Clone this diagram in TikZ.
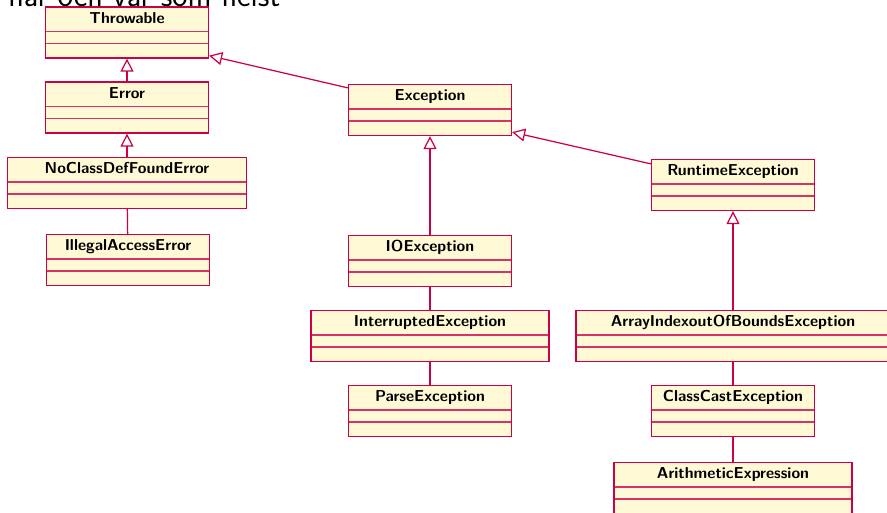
\documentclass[tikz,border=0pt]{standalone}
\usepackage{xcolor}
\usepackage{tikz}
\usetikzlibrary{positioning,arrows.meta}
\definecolor{umlred}{RGB}{204,0,68}
\definecolor{umlfill}{RGB}{255,249,214}

\begin{document}
\begin{tikzpicture}[
  umlclass/.style={draw=umlred, fill=umlfill, line width=0.7pt, minimum width=#1,
    inner ysep=0.12cm, text height=0.2cm, text depth=0.58cm,
    font=\sffamily\bfseries\small,
    path picture={
      \draw[umlred!80, line width=0.6pt] ([yshift=-0.49cm]path picture bounding box.north west) -- ([yshift=-0.49cm]path picture bounding box.north east);
      \draw[umlred!80, line width=0.6pt] ([yshift=-0.73cm]path picture bounding box.north west) -- ([yshift=-0.73cm]path picture bounding box.north east);
    }},
  umlclass/.default=3.26cm,
  gen/.style={draw=umlred, line width=0.7pt, -{Triangle[open, length=0.26cm, width=0.26cm]}},
  assoc/.style={draw=umlred, line width=0.7pt}]
  \clip (0,0) rectangle (17.74,-10.24);
  \node[anchor=base west, font=\sffamily\fontsize{18.3}{22}\selectfont, inner sep=0pt] (title) at (0.16,-0.13) {när och var som helst};
  % left branch
  \node[umlclass] (thr) at (2.54,-0.65) {Throwable};
  \node[umlclass] (err) at (2.54,-2.15) {Error};
  \node[umlclass=4.78cm] (ncdf) at (2.54,-3.66) {NoClassDefFoundError};
  \node[umlclass] (iae) at (2.56,-5.2) {IllegalAccessError};
  % middle branch
  \node[umlclass] (exc) at (8.6,-2.2) {Exception};
  \node[umlclass] (ioe) at (8.6,-5.22) {IOException};
  \node[umlclass=4.76cm] (ie) at (8.6,-6.72) {InterruptedException};
  \node[umlclass] (pe) at (8.6,-8.22) {ParseException};
  % right branch
  \node[umlclass] (rte) at (14.66,-3.7) {RuntimeException};
  \node[umlclass=6.28cm] (aioobe) at (14.66,-6.72) {ArrayIndexoutOfBoundsException};
  \node[umlclass] (cce) at (14.66,-8.22) {ClassCastException};
  \node[umlclass=4.76cm] (ae) at (14.66,-9.76) {ArithmeticExpression};
  % connectors
  \foreach \a/\b in {err/thr, ncdf/err, ioe/exc, aioobe/rte}
    \draw[gen] (\a) -- (\b);
  \draw[gen] ([yshift=-0.08cm]exc.north west) -- ([yshift=0.06cm]thr.south east);
  \draw[gen] ([yshift=-0.1cm]rte.north west) -- ([yshift=0.08cm]exc.south east);
  \foreach \a/\b in {ncdf/iae, ioe/ie, ie/pe, aioobe/cce, cce/ae}
    \draw[assoc] (\a) -- (\b);
\end{tikzpicture}
\end{document}
